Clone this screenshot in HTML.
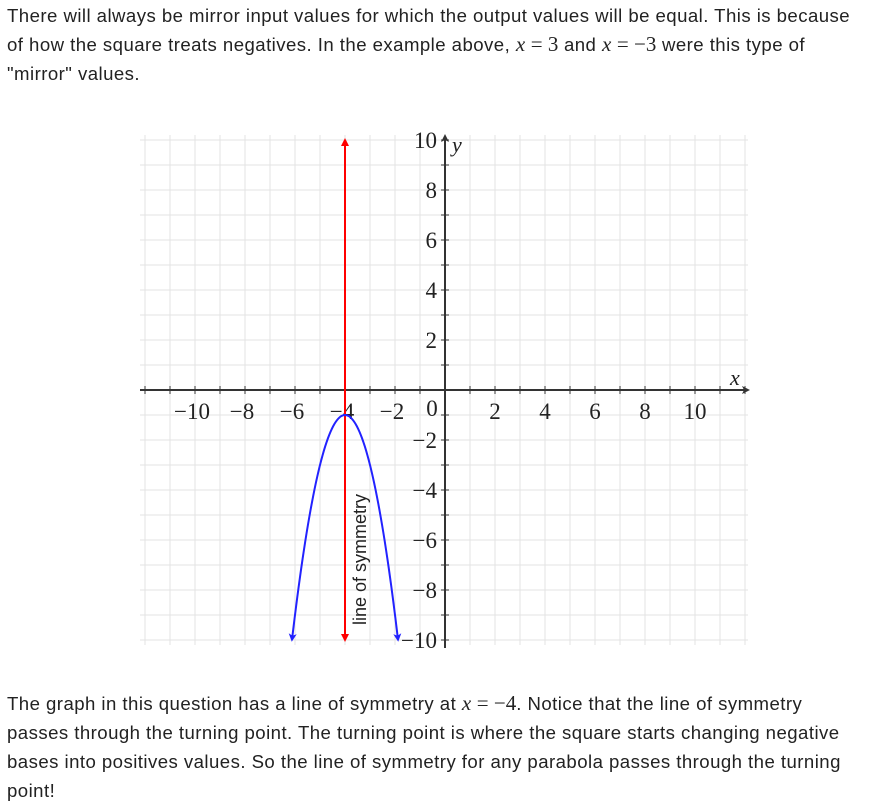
<!DOCTYPE html>
<html><head><meta charset="utf-8">
<style>
body{margin:0;width:870px;height:811px;background:#fff;overflow:hidden;font-family:"Liberation Sans",sans-serif;color:#222}
p{position:absolute;left:7px;margin:0;font-size:18.6px;line-height:29px;width:862px;letter-spacing:0.45px;white-space:nowrap}
.m{font-family:"Liberation Serif",serif;font-style:italic;font-size:21px;letter-spacing:0}
.n{font-family:"Liberation Serif",serif;font-size:21px;letter-spacing:0}
</style></head><body>
<p style="top:1px">There will always be mirror input values for which the output values will be equal. This is because<br>of how the square treats negatives. In the example above, <span class="m">x</span> <span class="n">= 3</span> and <span class="m">x</span> <span class="n">= −3</span> were this type of<br>"mirror" values.</p>
<svg width="870" height="811" style="position:absolute;left:0;top:0">
<g id="grid"></g>
<g id="axes"></g>
<g id="marks"></g>
</svg>
<p style="top:689px">The graph in this question has a line of symmetry at <span class="m">x</span> <span class="n">= −4</span>. Notice that the line of symmetry<br>passes through the turning point. The turning point is where the square starts changing negative<br>bases into positives values. So the line of symmetry for any parabola passes through the turning<br>point!</p>
<script>
const xTicks=[-10,-8,-6,-4,-2,2,4,6,8,10];
const yTicks=[-10,-8,-6,-4,-2,2,4,6,8,10];
const vertex=[-4,-1];
const coefA=-2;
const domain=[-6.12,-1.88];
const symmetryX=[-4];
const NS='http://www.w3.org/2000/svg';
const X=v=>445+25*v, Y=v=>390-25*v;
function mk(p,t,a){const e=document.createElementNS(NS,t);for(const k in a)e.setAttribute(k,a[k]);document.getElementById(p).appendChild(e);return e;}
for(let i=-12;i<=12;i++){
 let l=mk('grid','line',{x1:X(i),x2:X(i),y1:135,y2:645,stroke:'#e3e3e3','stroke-width':1});
 
}
for(let i=-10;i<=10;i++){
 let l=mk('grid','line',{x1:140,x2:748,y1:Y(i),y2:Y(i),stroke:'#e3e3e3','stroke-width':1});
 
}
let ax=mk('axes','line',{x1:140,x2:745,y1:390,y2:390,stroke:'#333','stroke-width':2});

let ay=mk('axes','line',{x1:445,x2:445,y1:648,y2:140,stroke:'#333','stroke-width':2});

mk('axes','path',{d:'M750 390 l-8 -4 l2 4 l-2 4z',fill:'#333'});
mk('axes','path',{d:'M445 134 l-4 8 l4 -2 l4 2z',fill:'#333'});
for(let i=-12;i<=12;i++){if(i)mk('axes','line',{x1:X(i),x2:X(i),y1:386,y2:394,stroke:'#333'});}
for(let i=-10;i<=10;i++){if(i)mk('axes','line',{x1:441,x2:449,y1:Y(i),y2:Y(i),stroke:'#333'});}
xTicks.forEach(v=>{let t=mk('axes','text',{x:X(v)+(v<0?-3:0),y:419,'text-anchor':'middle','font-family':'Liberation Serif, serif','font-size':23,fill:'#222'});t.textContent=(v<0?'−':'')+Math.abs(v);});
yTicks.forEach(v=>{let t=mk('axes','text',{x:437,y:Y(v)+8,'text-anchor':'end','font-family':'Liberation Serif, serif','font-size':23,fill:'#222'});t.textContent=(v<0?'−':'')+Math.abs(v);});
let z=mk('axes','text',{x:432,y:416,'text-anchor':'middle','font-family':'Liberation Serif, serif','font-size':23,fill:'#222'});z.textContent='0';
let xl=mk('axes','text',{x:730,y:385,'font-family':'Liberation Serif, serif','font-style':'italic','font-size':22,fill:'#222'});xl.textContent='x';
let yl=mk('axes','text',{x:452,y:152,'font-family':'Liberation Serif, serif','font-style':'italic','font-size':22,fill:'#222'});yl.textContent='y';
symmetryX.forEach(s=>{
 let l=mk('marks','line',{x1:X(s),x2:X(s),y1:Y(10)+4,y2:Y(-10)-4,stroke:'#f00','stroke-width':2});
 
 mk('marks','path',{d:`M${X(s)} ${Y(10)-2} l-4 8 l8 0z`,fill:'#f00'});
 mk('marks','path',{d:`M${X(s)} ${Y(-10)+2} l-4 -8 l8 0z`,fill:'#f00'});
 let t=mk('marks','text',{x:0,y:0,transform:`translate(${X(s)+21},${Y(-9.4)}) rotate(-90)`,'font-family':'Liberation Sans, sans-serif','font-size':18,fill:'#222'});
 t.textContent='line of symmetry';
});
const f=x=>coefA*(x-vertex[0])**2+vertex[1];
let d='';const N=80;
for(let i=0;i<=N;i++){const x=domain[0]+(domain[1]-domain[0])*i/N;d+=(i?'L':'M')+X(x).toFixed(2)+' '+Y(f(x)).toFixed(2);}
let pc=mk('marks','path',{d:d,fill:'none',stroke:'#22f','stroke-width':2});

[domain[0],domain[1]].forEach(x=>{
 const dx=0.01*(x<vertex[0]?-1:1);const x0=X(x),y0=Y(f(x));const x1=X(x-dx),y1=Y(f(x-dx));
 const ang=Math.atan2(y0-y1,x0-x1)*180/Math.PI;
 let a=mk('marks','path',{d:'M2 0 L-6 -4 L-4 0 L-6 4z',fill:'#22f',transform:`translate(${x0},${y0}) rotate(${ang})`});
 
});
</script>
</body></html>
